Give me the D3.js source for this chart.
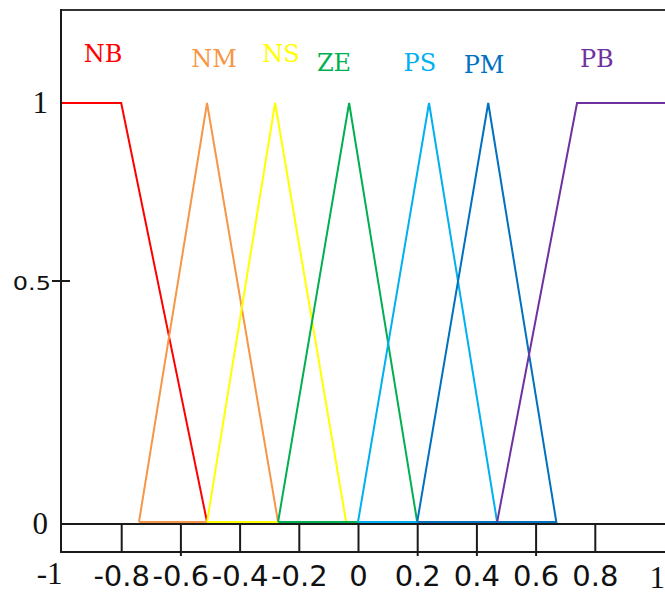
<!DOCTYPE html>
<html>
<head>
<meta charset="utf-8">
<script src="https://cdn.jsdelivr.net/npm/d3@7"></script>
<style>
  html, body { margin: 0; padding: 0; background: #fff; }
  svg { display: block; }
</style>
</head>
<body>
<div id="chart"></div>
<script>
// ---- data ----
const setNames = ["NB", "NM", "NS", "ZE", "PS", "PM", "PB"];
// x vertices of each membership function
const setX = [
  [-1, -0.8, -0.51],
  [-0.74, -0.51, -0.27],
  [-0.51, -0.28, -0.04],
  [-0.27, -0.03, 0.2],
  [0, 0.24, 0.47],
  [0.2, 0.44, 0.67],
  [0.47, 0.74, 1.04]
];
// membership degree at each vertex
const setMu = [
  [1, 1, 0],
  [0, 1, 0],
  [0, 1, 0],
  [0, 1, 0],
  [0, 1, 0],
  [0, 1, 0],
  [0, 1, 1]
];
const closedShape = [false, true, true, true, true, true, false];
const xTickValues = [-1, -0.8, -0.6, -0.4, -0.2, 0, 0.2, 0.4, 0.6, 0.8, 1];
const xTickLabels = ["-1", "-0.8", "-0.6", "-0.4", "-0.2", "0", "0.2", "0.4", "0.6", "0.8", "1"];
const yTickValues = [0, 0.5, 1];
const yTickLabels = ["0", "0.5", "1"];

// ---- styles ----
const colors = ["#ff0000", "#f79646", "#ffff00", "#00b050", "#00b0f0", "#0070c0", "#7030a0"];

(function draw() {
  const W = 665, H = 594;
  const svg = d3.select("#chart").append("svg").attr("width", W).attr("height", H);

  const x = d3.scaleLinear().domain([-1, 1]).range([62, 654]);
  const y = d3.scaleLinear().domain([0, 1]).range([522, 103]);
  // the reference's y axis is not evenly graduated
  const yAxisScale = d3.scaleLinear().domain([0, 0.5, 1]).range([524, 281, 103]);

  const pLeft = 61, pTop = 10, axisY = 524, bottomY = 552, pRight = W;
  const ink = "#1a1a1a";

  svg.append("defs").append("clipPath").attr("id", "plot")
    .append("rect").attr("x", pLeft).attr("y", pTop).attr("width", pRight - pLeft).attr("height", bottomY - pTop);

  // ---- membership functions ----
  const g = svg.append("g").attr("clip-path", "url(#plot)");
  const line = d3.line().x(d => x(d[0])).y(d => y(d[1]));
  setNames.forEach((name, i) => {
    const pts = setX[i].map((v, k) => [v, setMu[i][k]]);
    if (closedShape[i]) pts.push(pts[0]);
    g.append("path")
      .attr("d", line(pts))
      .attr("fill", "none")
      .attr("stroke", colors[i])
      .attr("stroke-width", 2)
      .attr("stroke-linejoin", "miter");
  });

  // ---- frame ----
  const frame = svg.append("g").attr("stroke", ink).attr("stroke-width", 2).attr("fill", "none");
  frame.append("line").attr("x1", pLeft).attr("x2", pRight).attr("y1", pTop).attr("y2", pTop).attr("stroke", "#333");
  frame.append("line").attr("x1", pLeft).attr("x2", pLeft).attr("y1", pTop - 1).attr("y2", bottomY + 1);
  frame.append("line").attr("x1", pLeft).attr("x2", pRight).attr("y1", axisY).attr("y2", axisY);
  frame.append("line").attr("x1", pLeft).attr("x2", pRight).attr("y1", bottomY).attr("y2", bottomY);

  // ---- x axis ----
  const longTicks = [-0.6, 0.2, 0.4, 0.6];
  const xAxis = d3.axisBottom(x)
    .tickValues(xTickValues)
    .tickSize(bottomY - axisY)
    .tickFormat((d, i) => xTickLabels[i]);
  const xg = svg.append("g").attr("transform", `translate(0,${axisY})`).call(xAxis);
  xg.select(".domain").remove();
  xg.selectAll(".tick line")
    .attr("stroke", ink).attr("stroke-width", 2)
    .attr("y2", d => longTicks.includes(d) ? bottomY - axisY + 4 : bottomY - axisY)
    .style("display", d => (d === -1 || d === 1) ? "none" : null);
  xg.selectAll(".tick text")
    .attr("y", 62).attr("dy", 0)
    .attr("fill", "#111")
    .style("font-family", "'DejaVu Sans', sans-serif")
    .style("font-size", "29px")
    .each(function (d) {
      const t = d3.select(this);
      if (d === -1) {
        t.style("font-family", "'Liberation Serif', serif").style("font-size", "31px")
          .attr("text-anchor", "end").attr("x", 0).attr("y", 60);
      } else if (d === 1) {
        t.style("font-family", "'Liberation Serif', serif").style("font-size", "31px")
          .attr("text-anchor", "start").attr("x", -5).attr("y", 64);
      }
    });

  // ---- y axis ----
  const yg = svg.append("g");
  yTickValues.forEach((v, i) => {
    const yy = yAxisScale(v);
    if (v === 0.5) {
      yg.append("line").attr("x1", pLeft - 9).attr("x2", pLeft + 9).attr("y1", yy).attr("y2", yy)
        .attr("stroke", ink).attr("stroke-width", 2);
      yg.append("text")
        .attr("transform", `translate(${pLeft - 10},${yy + 9}) scale(1.2,1)`)
        .attr("text-anchor", "end")
        .style("font-family", "'DejaVu Sans', sans-serif")
        .style("font-size", "20px")
        .attr("fill", "#111")
        .text(yTickLabels[i]);
    } else {
      yg.append("text")
        .attr("x", pLeft - 13)
        .attr("y", yy + 10)
        .attr("text-anchor", "end")
        .style("font-family", "'Liberation Serif', serif")
        .style("font-size", "31px")
        .attr("fill", "#111")
        .text(yTickLabels[i]);
    }
  });

  // ---- set labels ----
  const labelAnchorX = [-0.861, -0.486, -0.26, -0.081, 0.209, 0.426, 0.807];
  const labelAnchorMu = [1.098, 1.086, 1.098, 1.076, 1.076, 1.072, 1.086];
  setNames.forEach((name, i) => {
    svg.append("text")
      .attr("x", x(labelAnchorX[i]))
      .attr("y", y(labelAnchorMu[i]))
      .attr("text-anchor", "middle")
      .style("font-family", "'DejaVu Serif', serif")
      .style("font-size", "24px")
      .attr("fill", colors[i])
      .text(name);
  });
})();
</script>
</body>
</html>
